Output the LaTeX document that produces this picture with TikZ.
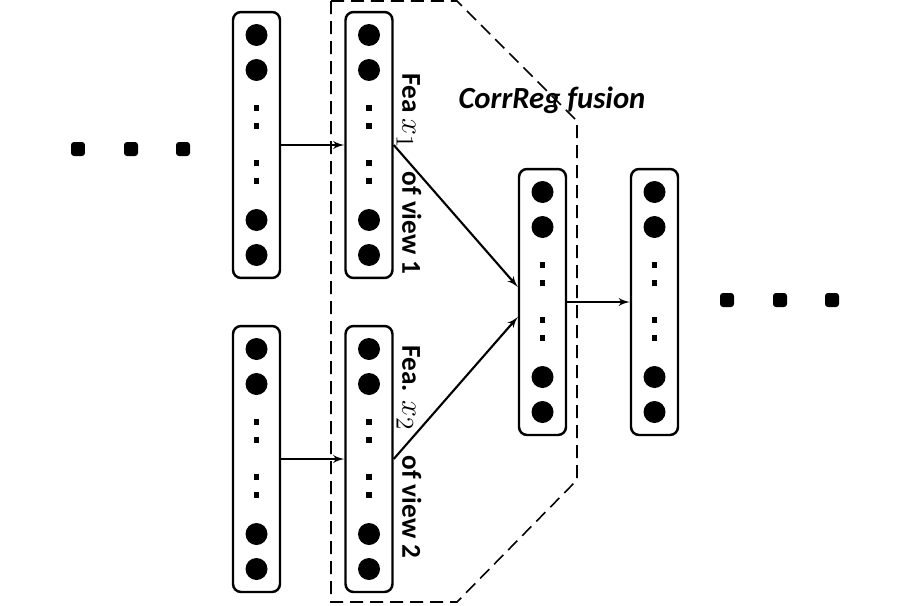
\documentclass[tikz,border=0pt]{standalone}
\usepackage{amsmath}
\usepackage{fontspec}
\usepackage{tikz}
\usetikzlibrary{shapes,arrows}
\newfontfamily\calfont{Carlito}
\tikzstyle{layer} = [rectangle, draw, line width=1.4pt, rounded corners=0.16cm, minimum width=0.94cm, minimum height=5.32cm, inner sep=0pt]
\tikzstyle{unit} = [circle, fill=black, minimum size=0.44cm, inner sep=0pt]
\tikzstyle{pt} = [rectangle, fill=black, minimum size=0.11cm, inner sep=0pt]
\tikzstyle{more} = [rectangle, rounded corners=0.06cm, fill=black, minimum size=0.28cm, inner sep=0pt]
\tikzstyle{line} = [draw, line width=1.2pt, -latex']
\tikzstyle{tag} = [font=\calfont\bfseries\fontsize{15.5}{15.5}\selectfont, rotate=-90, inner sep=0pt]

\begin{document}
\begin{tikzpicture}[x=0.02cm,y=-0.02cm]
\useasboundingbox (0,0) rectangle (912,605);
% fusion region
\draw [line width=0.9pt, dash pattern=on 0.26cm off 0.14cm] (331,1) -- (457,1) -- (577,121) -- (577,480) -- (457,602) -- (331,602) -- cycle;
\node [font=\calfont\bfseries\itshape\fontsize{17.5}{17.5}\selectfont] (fusionlbl) at (552,100) {CorrReg fusion};
% layers
\foreach \name/\x/\y in {in1/256.5/145, in2/256.5/459, fea1/369/145, fea2/369/459, fus/542.5/302, out/654.5/302} {
  \node [layer] (\name) at (\x,\y) {};
  \foreach \k/\d in {1/-110,2/-75,5/75,6/110}
    \node [unit] (\name-u\k) at (\x,\y+\d) {};
  \foreach \k/\d in {1/-37,2/-19,3/18,4/36}
    \node [pt] (\name-p\k) at (\x,\y+\d) {};
}
% more layers
\foreach \k/\x in {1/78,2/131,3/183}
  \node [more] (ldot\k) at (\x,149) {};
\foreach \k/\x in {1/727,2/780,3/832}
  \node [more] (rdot\k) at (\x,300) {};
% labels
\node [tag] (tag1) at (409,174) {Fea {\fontsize{19}{19}\selectfont$x_1$}\hspace{0.45cm}of view 1};
\node [tag] (tag2) at (409,452) {Fea. {\fontsize{19}{19}\selectfont$x_2$}\hspace{0.5cm}of view 2};
% connections
\path [line] (in1) -- (fea1);
\path [line] (in2) -- (fea2);
\path [line] (fea1.east) -- ([yshift=0.3cm]fus.west);
\path [line] (fea2.east) -- ([yshift=-0.3cm]fus.west);
\path [line] (fus) -- (out);
\end{tikzpicture}
\end{document}
